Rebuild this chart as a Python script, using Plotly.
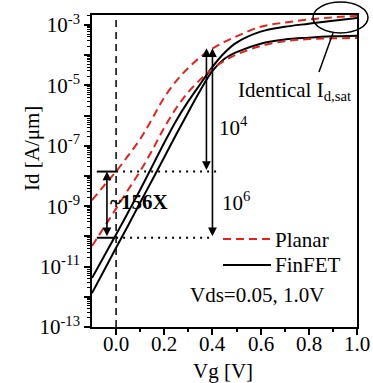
import math
import plotly.graph_objects as go

# ---------------- data ----------------
vg = [-0.10, -0.05, 0.00, 0.05, 0.10, 0.15, 0.20, 0.25, 0.30, 0.35,
      0.40, 0.45, 0.50, 0.60, 0.70, 0.80, 0.90, 1.00]

planar_vd_hi = [1.58e-9, 4.8e-9, 1.41e-8, 4.7e-8, 1.66e-7, 7.9e-7, 4.0e-6, 1.41e-5, 3.8e-5, 8.7e-5,
                1.66e-4, 2.75e-4, 4.2e-4, 8.7e-4, 1.20e-3, 1.51e-3, 1.78e-3, 2.0e-3]
planar_vd_lo = [4.8e-11, 2.0e-10, 8.3e-10, 3.5e-9, 1.45e-8, 7.1e-8, 4.0e-7, 1.78e-6, 6.0e-6, 1.58e-5,
                3.5e-5, 6.6e-5, 1.05e-4, 2.0e-4, 2.9e-4, 3.4e-4, 3.6e-4, 3.7e-4]
finfet_vd_hi = [4.2e-12, 2.2e-11, 1.15e-10, 6.3e-10, 3.5e-9, 2.1e-8, 1.26e-7, 6.9e-7, 3.0e-6, 1.12e-5,
                4.1e-5, 1.2e-4, 2.6e-4, 6.0e-4, 8.7e-4, 1.10e-3, 1.38e-3, 1.70e-3]
finfet_vd_lo = [1.32e-12, 7.4e-12, 4.2e-11, 2.3e-10, 1.32e-9, 7.4e-9, 4.2e-8, 2.4e-7, 1.32e-6, 6.9e-6,
                3.0e-5, 7.6e-5, 1.26e-4, 2.4e-4, 3.3e-4, 3.8e-4, 4.2e-4, 4.4e-4]

x_ticks = [0.0, 0.2, 0.4, 0.6, 0.8, 1.0]
x_ticklabels = ["0.0", "0.2", "0.4", "0.6", "0.8", "1.0"]
y_exponents = [-13, -12, -11, -10, -9, -8, -7, -6, -5, -4, -3]
y_labelled = [-13, -11, -9, -7, -5, -3]

ioff_planar = 1.4e-8     # Planar Id at Vg=0 (Vds=1.0)
ioff_finfet = 9.0e-11    # FinFET Id at Vg=0 (Vds=1.0)
ion_level = 1.7e-4       # top of the 10^4 / 10^6 arrows
vg_arrow1 = 0.375
vg_arrow2 = 0.40
vg_bracket = -0.038

FONT = "Liberation Serif"
FS = 21

# plot area in pixels
L, R, T, B = 92, 357, 15, 327
def px(x):
    return (x - L) / (R - L)
def py(y):
    return (B - y) / (B - T)

fig = go.Figure()
fig.add_trace(go.Scatter(x=vg, y=finfet_vd_lo, mode="lines", line=dict(color="black", width=2, shape="spline"),
                         showlegend=False))
fig.add_trace(go.Scatter(x=vg, y=finfet_vd_hi, mode="lines", line=dict(color="black", width=2, shape="spline"),
                         showlegend=False))
fig.add_trace(go.Scatter(x=vg, y=planar_vd_lo, mode="lines",
                         line=dict(color="#e8201c", width=2, dash="8px,5px", shape="spline"), showlegend=False))
fig.add_trace(go.Scatter(x=vg, y=planar_vd_hi, mode="lines",
                         line=dict(color="#e8201c", width=2, dash="8px,5px", shape="spline"), showlegend=False))

shapes = []
# vertical dashed line at Vg = 0
shapes.append(dict(type="line", xref="x", yref="paper", x0=0, x1=0, y0=0, y1=1,
                   line=dict(color="black", width=1.5, dash="7px,5px")))
# dotted horizontal lines
shapes.append(dict(type="line", xref="x", yref="y", x0=0.0, x1=0.42, y0=ioff_planar, y1=ioff_planar,
                   line=dict(color="black", width=2, dash="2px,5px")))
shapes.append(dict(type="line", xref="x", yref="y", x0=0.0, x1=0.40, y0=ioff_finfet, y1=ioff_finfet,
                   line=dict(color="black", width=2, dash="2px,5px")))
# bracket caps
shapes.append(dict(type="line", xref="x", yref="y", x0=-0.08, x1=0.0, y0=ioff_planar, y1=ioff_planar,
                   line=dict(color="black", width=2)))
shapes.append(dict(type="line", xref="x", yref="y", x0=-0.08, x1=-0.005, y0=ioff_finfet, y1=ioff_finfet,
                   line=dict(color="black", width=2)))
# ellipse
shapes.append(dict(type="circle", xref="paper", yref="paper", x0=px(313), x1=px(368), y0=py(33), y1=py(2),
                   line=dict(color="black", width=1.5)))
# pointer line
shapes.append(dict(type="line", xref="paper", yref="paper", x0=px(319), y0=py(72), x1=px(333), y1=py(33),
                   line=dict(color="black", width=1.5)))
# legend samples
shapes.append(dict(type="line", xref="paper", yref="paper", x0=px(223), x1=px(271), y0=py(239), y1=py(239),
                   line=dict(color="#e8201c", width=2, dash="8px,5px")))
shapes.append(dict(type="line", xref="paper", yref="paper", x0=px(223), x1=px(271), y0=py(265), y1=py(265),
                   line=dict(color="black", width=2)))

ann = []
def arrow(x, y_top, y_bot):
    return dict(xref="x", yref="y", axref="x", ayref="y", x=x, y=math.log10(y_top), ax=x, ay=math.log10(y_bot),
                text="", showarrow=True, arrowhead=2, arrowsize=1.1, arrowwidth=1.6, arrowside="end+start",
                arrowcolor="black", standoff=0, startstandoff=0)
ann.append(arrow(vg_bracket, ioff_planar, ioff_finfet))
ann.append(arrow(vg_arrow1, ion_level, ioff_planar))
ann.append(arrow(vg_arrow2, ion_level, ioff_finfet))

def text(t, x, y, size=FS, bold=False, xanchor="left"):
    return dict(xref="paper", yref="paper", x=x, y=y, text=("<b>%s</b>" % t) if bold else t,
                showarrow=False, xanchor=xanchor, yanchor="middle",
                font=dict(family=FONT, size=size, color="black"), borderpad=0)

ann.append(text("~156X", px(109), py(202), bold=True))
ann.append(text("10<sup>4</sup>", px(218), py(127)))
ann.append(text("10<sup>6</sup>", px(221), py(201)))
ann.append(text("Identical I<sub>d,sat</sub>", px(237), py(91)))
ann.append(text("Planar", px(274), py(240)))
ann.append(text("FinFET", px(274), py(265)))
ann.append(text("Vds=0.05, 1.0V", px(189), py(295)))
# x tick labels (placed as text on the x axis scale)
for v, lab in zip(x_ticks, x_ticklabels):
    ann.append(dict(xref="x", yref="paper", x=v, y=py(344), text=lab, showarrow=False,
                    xanchor="center", yanchor="middle", font=dict(family=FONT, size=FS, color="black"),
                    borderpad=0))
ann.append(dict(xref="paper", yref="paper", x=px(223), y=py(371), text="Vg [V]", showarrow=False,
                xanchor="center", yanchor="middle", font=dict(family=FONT, size=FS, color="black"), borderpad=0))
ann.append(dict(xref="paper", yref="paper", x=px(32), y=py(149), text="Id [A/\u03bcm]", showarrow=False,
                textangle=-90, xanchor="center", yanchor="middle", font=dict(family=FONT, size=FS, color="black")))

minor_y = [m * 10 ** e for e in range(-13, -2) for m in range(2, 10)]

fig.update_layout(
    width=373, height=383,
    margin=dict(l=L, r=373 - R, t=T, b=383 - B, autoexpand=False),
    paper_bgcolor="white", plot_bgcolor="white",
    font=dict(family=FONT, size=FS, color="black"),
    shapes=shapes, annotations=ann, showlegend=False,
    xaxis=dict(range=[-0.1, 1.0], tickmode="array", tickvals=x_ticks, showticklabels=False,
               automargin=False,
               ticks="outside", ticklen=6, tickwidth=1.5, tickcolor="black",
               minor=dict(tickmode="array", tickvals=[0.1, 0.3, 0.5, 0.7, 0.9], ticks="outside",
                          ticklen=3, tickwidth=1.5, tickcolor="black"),
               showline=True, linecolor="black", linewidth=1.5, mirror=True,
               showgrid=False, zeroline=False),
    yaxis=dict(type="log", range=[-13, -2.67], tickmode="array", automargin=False,
               tickvals=[10 ** e for e in y_exponents],
               ticktext=[("10<sup>%d</sup>" % e) if e in y_labelled else "" for e in y_exponents],
               ticks="outside", ticklen=6, tickwidth=1.5, tickcolor="black",
               minor=dict(tickmode="array", tickvals=minor_y, ticks="outside", ticklen=3,
                          tickwidth=1, tickcolor="black"),
               showline=True, linecolor="black", linewidth=1.5, mirror=True,
               showgrid=False, zeroline=False, tickfont=dict(family=FONT, size=FS, color="black")),
)

fig.write_html("out.html")
